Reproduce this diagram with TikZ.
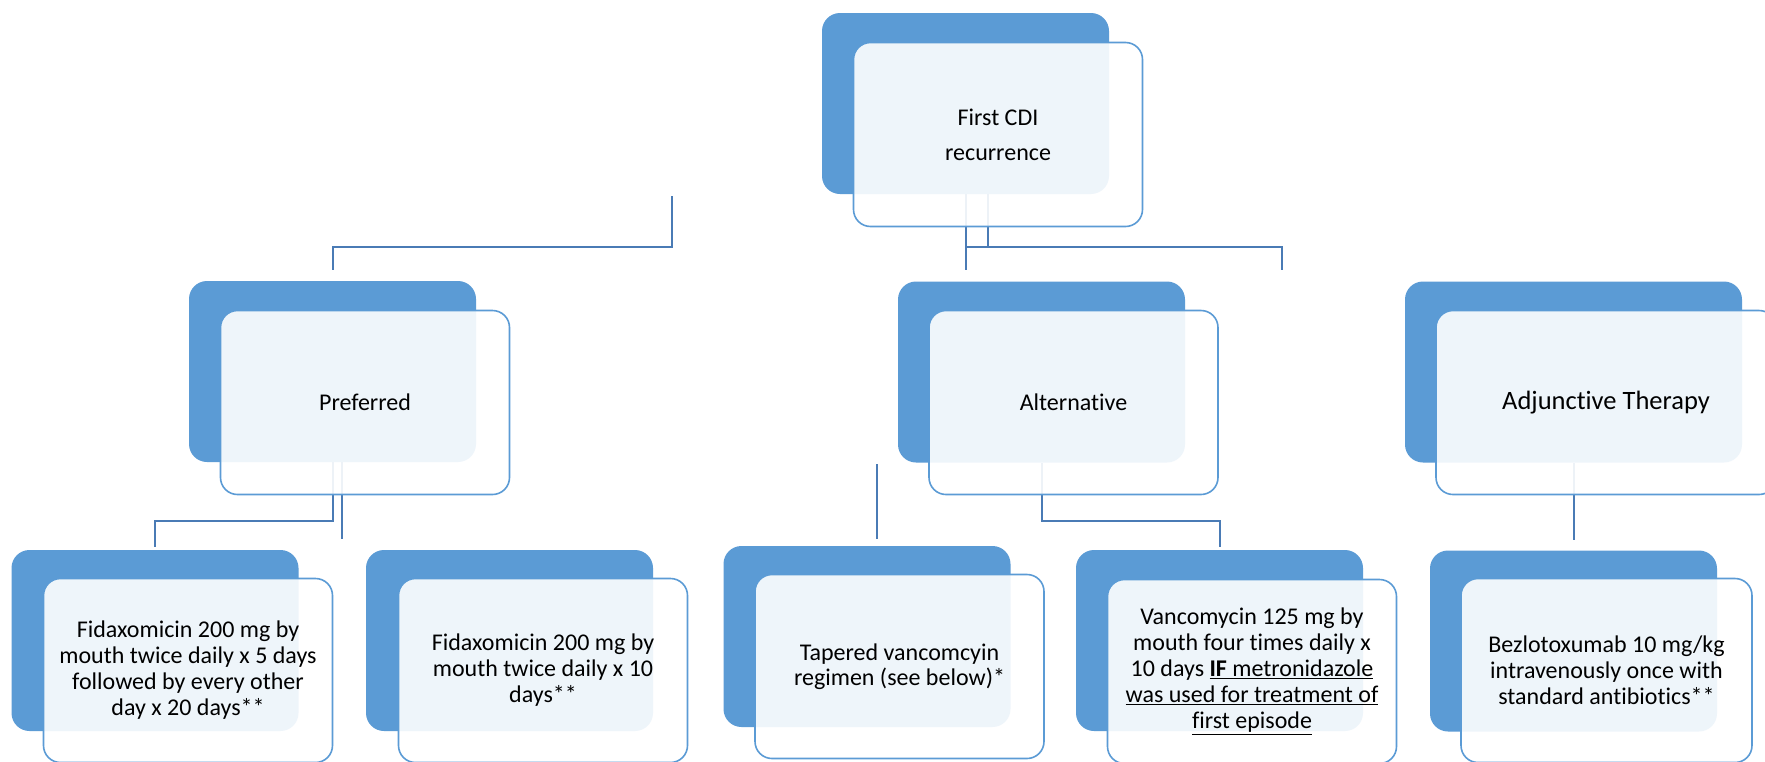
\documentclass[tikz,border=0pt]{standalone}
\usepackage{fontspec}
\setmainfont{Carlito}[Ligatures=NoCommon]
\definecolor{darkfill}{HTML}{5B9BD5}
\definecolor{conncol}{HTML}{4A7BB5}
\begin{document}
\begin{tikzpicture}[x=1pt,y=-1pt,
  darkbox/.style={rectangle, rounded corners=18pt, fill=darkfill, draw=none,
    minimum width=287pt, minimum height=181pt, inner sep=0pt},
  lightbox/.style={rectangle, rounded corners=17pt, fill=white, fill opacity=0.9,
    text opacity=1, draw=darkfill, line width=1.6pt, minimum width=289pt,
    minimum height=184pt, inner sep=0pt, align=center,
    font=\fontsize{24pt}{26pt}\selectfont},
  conn/.style={draw=conncol, line width=2pt}]
\fill[white] (0,0) rectangle (1765,761);
\useasboundingbox (0,0) rectangle (1765,761);

% dark back boxes
\node[darkbox] (rootD) at (965.5,103.5) {};
\node[darkbox] (prefD) at (332.5,371.5) {};
\node[darkbox] (altD)  at (1041.5,372) {};
\node[darkbox, minimum width=337pt] (adjD) at (1573.5,372) {};
\node[darkbox] (b1D) at (155,640.5) {};
\node[darkbox] (b2D) at (509.5,640.5) {};
\node[darkbox] (b3D) at (867,636.5) {};
\node[darkbox] (b4D) at (1219.5,640.5) {};
\node[darkbox] (b5D) at (1573.5,641) {};

% connectors
\coordinate (c1) at (672,196);
\coordinate (c1e) at (332.5,270);
\coordinate (t1) at (877,464);
\draw[conn] (rootD.south) -- ++(0,76);
\draw[conn] ([xshift=22.5pt]rootD.south) -- ++(0,53);
\draw[conn] ([yshift=-53pt]rootD.south) -| ++(316.5,23);
\draw[conn] (c1) -- ++(0,51) -| (c1e);
\draw[conn] (prefD.south) -- ++(0,59) -| ([yshift=3pt]b1D.north);
\draw[conn] ([xshift=9.5pt]prefD.south) -- ++(0,77);
\draw[conn] (altD.south) -- ++(0,58) -| ([yshift=3pt]b4D.north);
\draw[conn] (t1) -- ++(0,75);
\draw[conn] (adjD.south) -- ++(0,77);

% light front boxes with text
\node[lightbox, font=\fontsize{24pt}{35pt}\selectfont] (rootL) at ([shift={(32.5,31)}]rootD.center) {First CDI\\recurrence};
\node[lightbox] (prefL) at ([shift={(32.5,31)}]prefD.center) {Preferred};
\node[lightbox] (altL) at ([shift={(32,30.5)}]altD.center) {Alternative};
\node[lightbox, minimum width=340pt, font=\fontsize{26.5pt}{30pt}\selectfont] (adjL) at ([shift={(32.5,30.5)}]adjD.center) {Adjunctive Therapy};
\node[lightbox] (b1L) at ([shift={(33,30)}]b1D.center) {Fidaxomicin 200 mg by\\mouth twice daily x 5 days\\followed by every other\\day x 20 days**};
\node[lightbox] (b2L) at ([shift={(33.5,30)}]b2D.center) {Fidaxomicin 200 mg by\\mouth twice daily x 10\\days**};
\node[lightbox, font=\fontsize{24pt}{25pt}\selectfont] (b3L) at ([shift={(32.5,30)}]b3D.center) {Tapered vancomcyin\\regimen (see below)*};
\node[lightbox] (b4L) at ([shift={(32.5,31)}]b4D.center) {Vancomycin 125 mg by\\mouth four times daily x\\10 days \underline{\textbf{IF} metronidazole}\\\underline{was used for treatment of}\\\underline{first episode}};
\node[lightbox, minimum width=291pt] (b5L) at ([shift={(33,29.5)}]b5D.center) {Bezlotoxumab 10 mg/kg\\intravenously once with\\standard antibiotics**};
\end{tikzpicture}
\end{document}
